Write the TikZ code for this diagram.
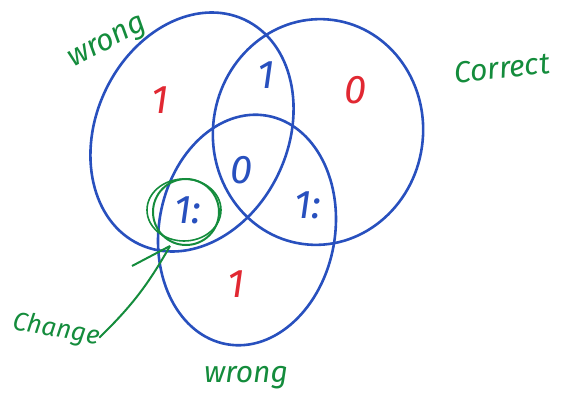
\documentclass[tikz,border=0pt]{standalone}
\usepackage{fontspec}
\setmainfont{Fira Sans}
\definecolor{penblue}{RGB}{40,80,190}
\definecolor{pengreen}{RGB}{20,140,60}
\definecolor{penred}{RGB}{225,40,50}
\tikzset{
  setline/.style={draw=penblue, line width=2.6pt},
  markred/.style={text=penred, font=\fontsize{40}{40}\selectfont\itshape},
  markblue/.style={text=penblue, font=\fontsize{40}{40}\selectfont\itshape},
  note/.style={text=pengreen, font=\fontsize{30}{30}\selectfont\itshape, inner sep=0pt}
}
\begin{document}
\begin{tikzpicture}[x=1pt,y=-1pt]
  \useasboundingbox (0,0) rectangle (563,404);
  % the three sets
  \draw[setline, rotate around={-25:(192,132)}] (192,132) ellipse (96 and 124);
  \draw[setline, rotate around={-8:(318,132)}] (318,132) ellipse (105 and 113);
  \draw[setline, rotate around={-10:(247,230)}] (247,230) ellipse (88 and 116);
  % circled region
  \draw[pengreen, line width=2pt] (186,212) circle (33);
  \draw[pengreen, line width=1.6pt] (184,210) ellipse (37 and 31);
  \coordinate (tip) at (170,246);
  \draw[pengreen, line width=2pt] (tip) -- (132,266);
  % labels
  \node[note, rotate=28] (wrongA) at (108,44) {wrong};
  \node[note, rotate=6] (right) at (502,68) {Correct};
  \node[note, rotate=-10, font=\fontsize{26}{26}\selectfont\itshape] (change) at (56,330) {Change};
  \node[note] (wrongB) at (246,378) {wrong};
  \draw[pengreen, line width=2pt] (change.east) to[bend right=8] (tip);
  % region values
  \node[markred] (onlyA) at (160,100) {1};
  \node[markblue] (ab) at (266,75) {1};
  \node[markred] (onlyB) at (356,90) {0};
  \node[markblue] (abc) at (242,170) {0};
  \node[markblue] (bc) at (308,205) {1:};
  \node[markblue] (ac) at (188,210) {1:};
  \node[markred] (onlyC) at (236,284) {1};
\end{tikzpicture}
\end{document}
